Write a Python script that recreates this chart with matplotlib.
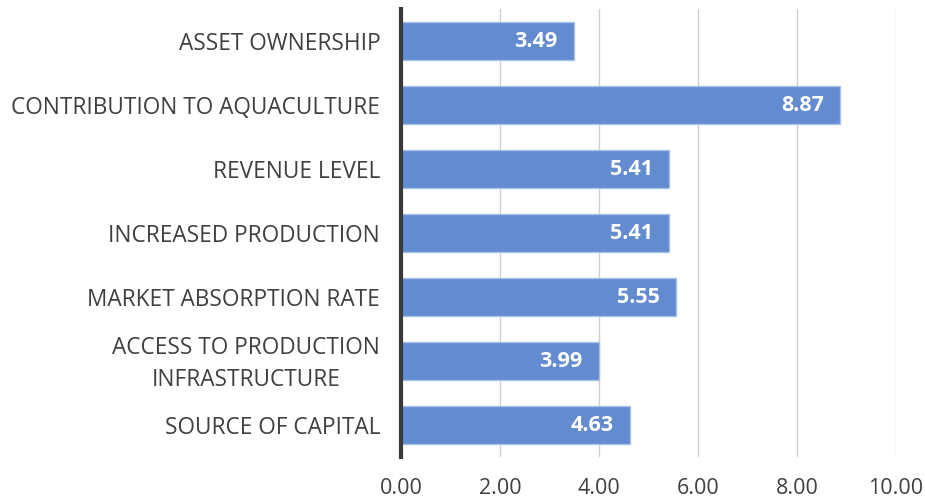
import matplotlib
matplotlib.use("Agg")
import matplotlib.pyplot as plt
import matplotlib.transforms as mtransforms

# categories top to bottom, as in the chart
categories = [
    "ASSET OWNERSHIP",
    "CONTRIBUTION TO AQUACULTURE",
    "REVENUE LEVEL",
    "INCREASED PRODUCTION",
    "MARKET ABSORPTION RATE",
    "ACCESS TO PRODUCTION\nINFRASTRUCTURE",
    "SOURCE OF CAPITAL",
]
values = [3.49, 8.87, 5.41, 5.41, 5.55, 3.99, 4.63]
x_ticks = [0, 2, 4, 6, 8, 10]

plt.rcParams['font.family'] = ['Open Sans', 'DejaVu Sans']

fig = plt.figure(figsize=(9.25, 4.99), dpi=100)
ax = fig.add_axes([401 / 925, 42 / 499, 495 / 925, 448 / 499])

pos = list(range(len(categories)))
ax.barh(pos, values, height=0.58, color='#5B85CD', edgecolor='#A9C0E8',
        linewidth=1.0, alpha=0.95, zorder=2)

# value labels, white, inside the end of each bar
for y, v in zip(pos, values):
    ax.annotate(f"{v:.2f}", xy=(v, y), xytext=(-16, 0), textcoords='offset pixels',
                ha='right', va='center', color='white', fontsize=15.5,
                fontweight='bold', zorder=3)

ax.set_xlim(0, 10)
ax.set_ylim(len(categories) - 0.5, -0.5)
ax.set_xticks(x_ticks)
ax.set_xticklabels([f"{t:.2f}" for t in x_ticks])
ax.set_yticks(pos)
ax.set_yticklabels(categories, ha='right', multialignment='center', linespacing=1.45)

ax.tick_params(axis='x', length=0, pad=15, labelsize=15.5, labelcolor='#404040')
ax.tick_params(axis='y', length=0, pad=15, labelsize=16.3, labelcolor='#404040')

# the two-line label sits a little high in the original
shift = mtransforms.ScaledTranslation(0, 4 / 100, fig.dpi_scale_trans)
for lbl in ax.get_yticklabels():
    if "\n" in lbl.get_text():
        lbl.set_transform(lbl.get_transform() + shift)

ax.grid(axis='x', color='#D0D0D0', linewidth=1.0, zorder=0)
ax.set_axisbelow(True)
for s in ['top', 'right', 'bottom']:
    ax.spines[s].set_visible(False)
ax.spines['left'].set_color('#3A3A3A')
ax.spines['left'].set_linewidth(3)
ax.spines['left'].set_zorder(4)

fig.savefig("out.png", dpi=100)
